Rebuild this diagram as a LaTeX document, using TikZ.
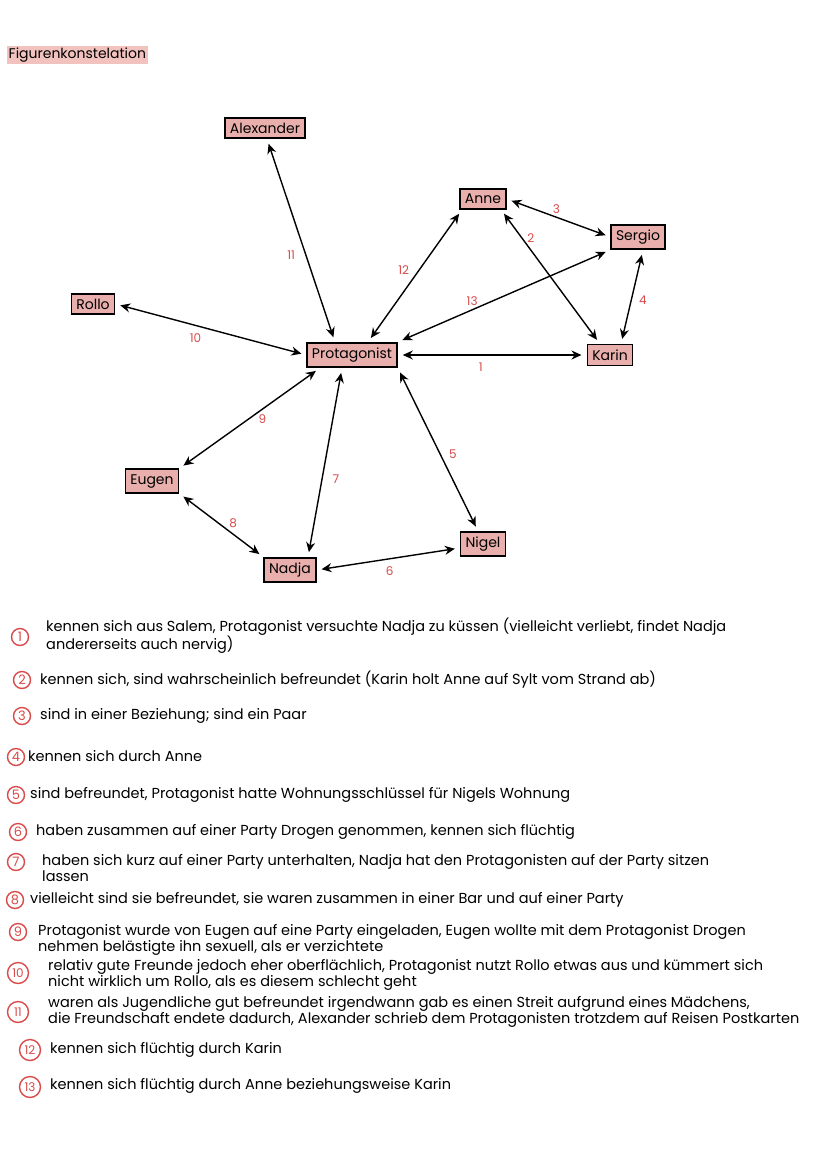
\documentclass[tikz,border=0pt]{standalone}
\usepackage{fontspec}
\setmainfont{Poppins}
\usetikzlibrary{arrows.meta}
\definecolor{Rose}{HTML}{E8AFAC}
\definecolor{PaleRose}{HTML}{F2C2BE}
\definecolor{Mark}{HTML}{DA4B4B}

\begin{document}
\begin{tikzpicture}[x=1pt,y=-1pt,
p/.style={draw,line width=1.5pt,fill=Rose,inner xsep=5pt,inner ysep=5pt,font=\fontsize{14}{16}\selectfont},
edge/.style={{Stealth[length=10pt,width=9pt]}-{Stealth[length=10pt,width=9pt]},line width=1.4pt,shorten <=5pt,shorten >=5pt},
num/.style={text=Mark,font=\fontsize{12}{13}\selectfont,inner sep=1pt},
ring/.style={circle,draw=Mark,line width=1.4pt,text=Mark,inner sep=0pt,minimum size=17pt,font=\fontsize{13}{14}\selectfont},
txt/.style={anchor=west,align=left,inner sep=0pt,font=\fontsize{14.5}{16}\selectfont}]
\useasboundingbox[fill=white] (0,0) rectangle (828,1170);
\node[fill=PaleRose,inner sep=1.5pt,anchor=west,font=\fontsize{14}{15}\selectfont] (title) at (7,55) {Figurenkonstelation};
\node[p] (alex) at (265,128) {Alexander};
\node[p] (anne) at (483,199) {Anne};
\node[p] (sergio) at (638,237) {Sergio};
\node[p] (rollo) at (93,304) {Rollo};
\node[p] (prot) at (352,355) {Protagonist};
\node[p] (karin) at (610,355) {Karin};
\node[p] (eugen) at (152,481) {Eugen};
\node[p] (nigel) at (483,544) {Nigel};
\node[p] (nadja) at (290,570) {Nadja};
\draw[edge] (prot.east)--node[num,pos=.44,below=6pt]{1}(karin.west);
\draw[edge] ([xshift=18pt]anne.south)--node[num,pos=.21,right=4pt]{2}([xshift=-10pt]karin.north);
\draw[edge] (anne.east)--node[num,pos=.48,above=2pt]{3}(sergio.west);
\draw[edge] ([xshift=5pt]sergio.south)--node[num,pos=.53,right=6pt]{4}([xshift=11pt]karin.north);
\draw[edge] (prot.south east)--node[num,pos=.53,right=7pt]{5}([xshift=-5pt]nigel.north);
\draw[edge] (nadja.east)--node[num,pos=.51,below=6pt]{6}([yshift=-4pt]nigel.west);
\draw[edge] ([xshift=-10pt]prot.south)--node[num,pos=.59,right=9pt]{7}([xshift=18pt]nadja.north);
\draw[edge] (eugen.south east)--node[num,pos=.64,above=5pt]{8}(nadja.north west);
\draw[edge] ([xshift=-32pt]prot.south)--node[num,pos=.41,below=4pt]{9}(eugen.north east);
\draw[edge] (rollo.east)--node[num,pos=.42,below=7pt]{10}(prot.west);
\draw[edge] ([xshift=2pt]alex.south)--node[num,pos=.57,left=9pt]{11}([xshift=-17pt]prot.north);
\draw[edge] ([xshift=16pt]prot.north)--node[num,pos=.54,left=8pt]{12}([xshift=-21pt]anne.south);
\draw[edge] (prot.north east)--node[num,pos=.35,above=3pt]{13}(sergio.south west);
\node[ring] (r1) at (20,637) {1};
\node[txt] (t1) at (46,635.5) {kennen sich aus Salem, Protagonist versuchte Nadja zu küssen (vielleicht verliebt, findet Nadja\\andererseits auch nervig)};
\node[ring] (r2) at (22,680) {2};
\node[txt] (t2) at (40,680) {kennen sich, sind wahrscheinlich befreundet (Karin holt Anne auf Sylt vom Strand ab)};
\node[ring] (r3) at (22,716) {3};
\node[txt] (t3) at (40,716) {sind in einer Beziehung; sind ein Paar};
\node[ring] (r4) at (16,757) {4};
\node[txt] (t4) at (28,756) {kennen sich durch Anne};
\node[ring] (r5) at (16,795) {5};
\node[txt] (t5) at (30,795) {sind befreundet, Protagonist hatte Wohnungsschlüssel für Nigels Wohnung};
\node[ring] (r6) at (18,832) {6};
\node[txt] (t6) at (36,832) {haben zusammen auf einer Party Drogen genommen, kennen sich flüchtig};
\node[ring] (r7) at (16,862) {7};
\node[txt] (t7) at (42,868) {haben sich kurz auf einer Party unterhalten, Nadja hat den Protagonisten auf der Party sitzen\\lassen};
\node[ring] (r8) at (15,900) {8};
\node[txt] (t8) at (30,900) {vielleicht sind sie befreundet, sie waren zusammen in einer Bar und auf einer Party};
\node[ring] (r9) at (18,932) {9};
\node[txt] (t9) at (38,939.5) {Protagonist wurde von Eugen auf eine Party eingeladen, Eugen wollte mit dem Protagonist Drogen\\nehmen belästigte ihn sexuell, als er verzichtete};
\node[ring,minimum size=21pt,font=\fontsize{12}{13}\selectfont] (r10) at (18,973) {10};
\node[txt] (t10) at (48,975) {relativ gute Freunde jedoch eher oberflächlich, Protagonist nutzt Rollo etwas aus und kümmert sich\\nicht wirklich um Rollo, als es diesem schlecht geht};
\node[ring,minimum size=21pt,font=\fontsize{12}{13}\selectfont] (r11) at (18,1012) {11};
\node[txt] (t11) at (48,1012) {waren als Jugendliche gut befreundet irgendwann gab es einen Streit aufgrund eines Mädchens,\\die Freundschaft endete dadurch, Alexander schrieb dem Protagonisten trotzdem auf Reisen Postkarten};
\node[ring,minimum size=21pt,font=\fontsize{12}{13}\selectfont] (r12) at (30,1050) {12};
\node[txt] (t12) at (50,1050) {kennen sich flüchtig durch Karin};
\node[ring,minimum size=21pt,font=\fontsize{12}{13}\selectfont] (r13) at (30,1087) {13};
\node[txt] (t13) at (50,1086) {kennen sich flüchtig durch Anne beziehungsweise Karin};
\end{tikzpicture}
\end{document}
